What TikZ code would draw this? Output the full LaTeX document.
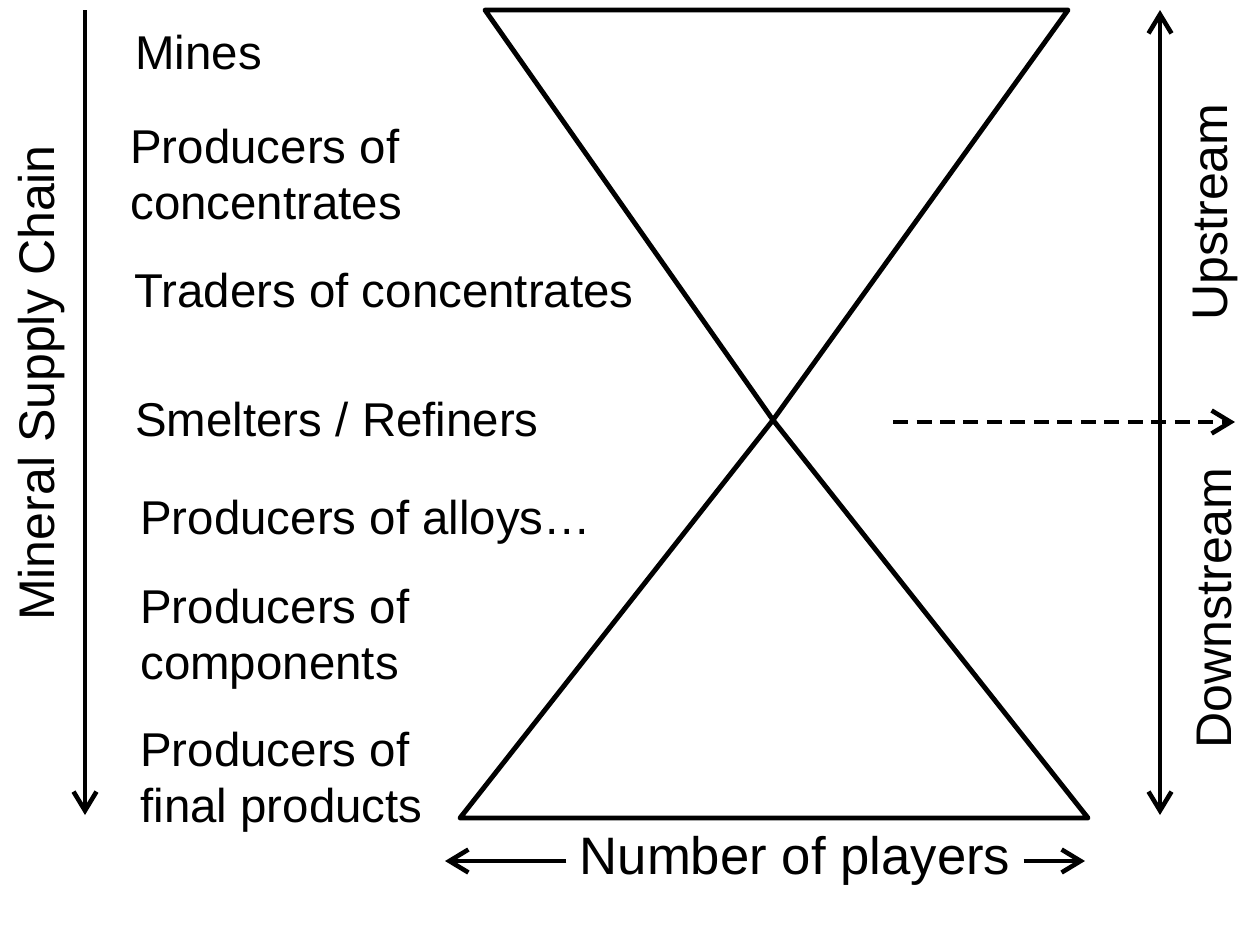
\documentclass[tikz,border=0pt]{standalone}
\usepackage{fontspec}
\setmainfont{Liberation Sans}
\usetikzlibrary{arrows.meta}

\tikzset{barb/.tip={Straight Barb[length=0.38cm, width=0.46cm, line width=2.6pt]}}

\begin{document}
\begin{tikzpicture}[x=0.02cm, y=-0.02cm,
    every node/.style={font=\fontsize{27}{31.5}\selectfont},
    lbl/.style={anchor=base west, inner sep=0pt, align=left},
    side/.style={rotate=90, inner sep=0pt, font=\fontsize{28.5}{33}\selectfont},
    axis/.style={line width=2.1pt, -barb},
    glass/.style={line width=2.8pt, line join=round}]
  \useasboundingbox (0,0) rectangle (1241,941);

  % hourglass
  \coordinate (tl) at (485,10);
  \coordinate (tr) at (1068,10);
  \coordinate (mid) at (773,420);
  \coordinate (bl) at (460,818);
  \coordinate (br) at (1088,818);
  \draw[glass] (tl) -- (tr) -- (mid) -- (br) -- (bl) -- (mid) -- cycle;

  % supply chain axis
  \coordinate (chaintop) at (85,10);
  \coordinate (chainbot) at (85,815);
  \draw[axis] (chaintop) -- (chainbot);
  \node[side] (chain) at (42,383) {Mineral Supply Chain};

  % stages (base = last line)
  \node[lbl] (mines) at (135,69) {Mines};
  \node[lbl] (conc) at (130,219) {Producers of\\concentrates};
  \node[lbl] (traders) at (134,307) {Traders of concentrates};
  \node[lbl] (smelt) at (135,436) {Smelters / Refiners};
  \node[lbl] (alloys) at (140,534) {Producers of alloys…};
  \node[lbl] (comp) at (140,679) {Producers of\\components};
  \node[lbl] (final) at (140,822) {Producers of\\final products};

  % up / down stream
  \coordinate (streamtop) at (1160,10);
  \coordinate (streambot) at (1160,815);
  \draw[axis, barb-barb] (streamtop) -- (streambot);
  \node[side] (up) at (1215,212) {Upstream};
  \node[side] (down) at (1215,608) {Downstream};
  \coordinate (cut) at (893,422);
  \coordinate (cutend) at (1235,422);
  \draw[axis, dash pattern=on 0.3cm off 0.17cm] (cut) -- (cutend);

  % number of players
  \node[inner sep=0pt, font=\fontsize{30}{36}\selectfont] (players) at (795,861) {Number of players};
  \coordinate (pleft) at (445,861);
  \coordinate (pright) at (1085,861);
  \draw[axis] ([xshift=-0.26cm]players.west) -- (pleft);
  \draw[axis] ([xshift=0.26cm]players.east) -- (pright);
\end{tikzpicture}
\end{document}
